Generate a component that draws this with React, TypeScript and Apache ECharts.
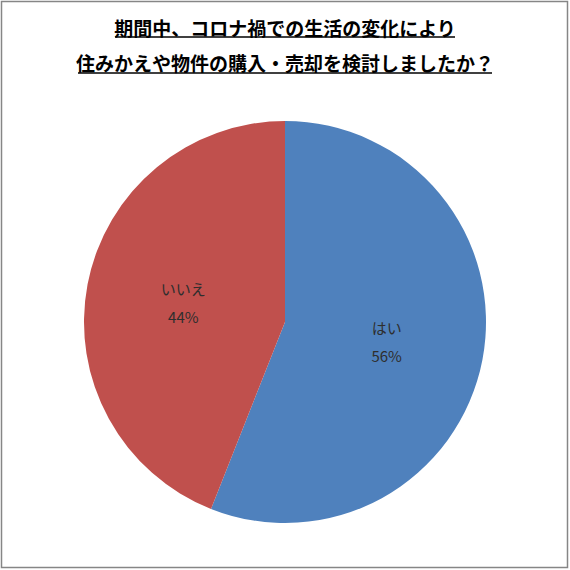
import React, { useEffect, useRef } from "react";
import * as echarts from "echarts";

const categories = ["はい", "いいえ"];
const shares = [56, 44];
const colors = ["#4F81BD", "#C0504D"];
const titleLines = [
  "期間中、コロナ禍での生活の変化により",
  "住みかえや物件の購入・売却を検討しましたか？",
];

const FONT = '"Noto Sans CJK JP", "Noto Sans", sans-serif';

export default function App() {
  const ref = useRef<HTMLDivElement>(null);

  useEffect(() => {
    if (!ref.current) return;
    const chart = echarts.init(ref.current, null, { renderer: "svg" });

    const titleY = [27, 62];
    const underlineY = [37, 73];
    const titleWidths = [340, 414];

    const graphics: any[] = [
      {
        type: "rect",
        shape: { x: 1.5, y: 1.5, width: 566, height: 566 },
        style: { fill: "none", stroke: "#868686", lineWidth: 1.5 },
        silent: true,
      },
    ];
    titleLines.forEach((t, i) => {
      graphics.push({
        type: "text",
        x: 285,
        y: titleY[i],
        style: {
          text: t,
          fontFamily: FONT,
          fontWeight: "bold",
          fontSize: 19,
          fill: "#000",
          align: "center",
          verticalAlign: "middle",
        },
      });
      graphics.push({
        type: "line",
        shape: {
          x1: 285 - titleWidths[i] / 2,
          y1: underlineY[i],
          x2: 285 + titleWidths[i] / 2,
          y2: underlineY[i],
        },
        style: { stroke: "#000", lineWidth: 1.5 },
      });
    });

    chart.setOption({
      animation: false,
      backgroundColor: "#fff",
      graphic: graphics,
      series: [
        {
          type: "pie",
          center: [285, 322],
          radius: [0, 201],
          startAngle: 90,
          clockwise: true,
          silent: true,
          data: categories.map((name, i) => ({
            name,
            value: shares[i],
            itemStyle: { color: colors[i] },
          })),
          itemStyle: { borderColor: "#fff", borderWidth: 0 },
          label: {
            show: true,
            position: "inside",
            formatter: (p: any) => `${p.name}\n${p.value}%`,
            fontFamily: FONT,
            fontSize: 15,
            lineHeight: 28,
            color: "#2e2e2e",
            align: "center",
          },
          labelLine: { show: false },
        },
      ],
    });

    return () => chart.dispose();
  }, []);

  return <div ref={ref} style={{ width: 570, height: 570, position: "absolute", left: 0, top: 0 }} />;
}
